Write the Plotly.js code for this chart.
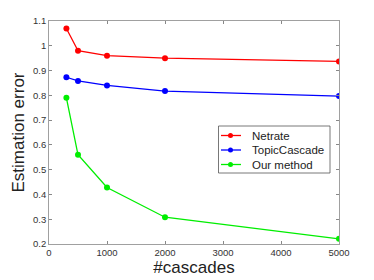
<!DOCTYPE html>
<html><head><meta charset="utf-8">
<script src="https://cdn.plot.ly/plotly-3.0.1.min.js"></script>
<style>html,body{margin:0;padding:0;background:#fff}#c{width:374px;height:280px}</style>
</head><body><div id="c"></div>
<script>
const cascades = [300, 500, 1000, 2000, 5000];
const netrate = [1.07, 0.98, 0.96, 0.95, 0.937];
const topicCascade = [0.873, 0.858, 0.84, 0.817, 0.797];
const ourMethod = [0.79, 0.56, 0.428, 0.308, 0.221];
const seriesNames = ["Netrate", "TopicCascade", "Our method"];
const colors = ["#ff0000", "#0000ff", "#00ee00"];
const vals = [netrate, topicCascade, ourMethod];
const traces = vals.map((v, i) => ({
  x: cascades, y: v, name: seriesNames[i], type: 'scatter', mode: 'lines+markers',
  line: {color: colors[i], width: 1.3}, marker: {color: colors[i], size: 6}, showlegend: false
}));
const W = 374, H = 280, L = 49, R = 35, T = 21, B = 36;
const pw = W - L - R, ph = H - T - B;
const px = x => (x - L) / pw, py = y => (H - B - y) / ph;
// custom legend (MATLAB style) in paper coords
const shapes = [{type: 'rect', xref: 'paper', yref: 'paper', x0: px(218.5), x1: px(330), y0: py(173), y1: py(126),
  line: {color: '#555', width: 0.8}, fillcolor: '#fff', layer: 'above'}];
const annotations = [];
const rowY = [135.5, 150, 164.5];
seriesNames.forEach((n, i) => {
  shapes.push({type: 'line', xref: 'paper', yref: 'paper', x0: px(221), x1: px(241), y0: py(rowY[i]), y1: py(rowY[i]),
    line: {color: colors[i], width: 1.3}, layer: 'above'});
  shapes.push({type: 'circle', xref: 'paper', yref: 'paper', x0: px(228), x1: px(233), y0: py(rowY[i] + 2.5), y1: py(rowY[i] - 2.5),
    line: {color: colors[i], width: 0}, fillcolor: colors[i], layer: 'above'});
  annotations.push({xref: 'paper', yref: 'paper', x: px(249.5), y: py(rowY[i]), xanchor: 'left', yanchor: 'middle',
    text: n, showarrow: false, font: {family: 'Liberation Sans, Arial', size: 11.5, color: '#222'}});
});
const ax = {
  showgrid: false, zeroline: false, showline: true, mirror: 'ticks', linecolor: '#888', linewidth: 0.8,
  ticks: 'inside', ticklen: 3, tickcolor: '#888', tickfont: {family: 'Liberation Sans, Arial', size: 9.5, color: '#333'}
};
Plotly.newPlot('c', traces, {
  width: W, height: H, margin: {l: L, r: R, t: T, b: B},
  paper_bgcolor: '#fff', plot_bgcolor: '#fff', showlegend: false,
  xaxis: Object.assign({}, ax, {range: [0, 5000], tickvals: [0,1000,2000,3000,4000,5000],
    title: {text: '#cascades', font: {family: 'Liberation Sans, Arial', size: 17, color: '#222'}, standoff: 3}}),
  yaxis: Object.assign({}, ax, {range: [0.2, 1.1], tickvals: [0.2,0.3,0.4,0.5,0.6,0.7,0.8,0.9,1,1.1],
    ticktext: ['0.2','0.3','0.4','0.5','0.6','0.7','0.8','0.9','1','1.1'],
    title: {text: 'Estimation error', font: {family: 'Liberation Sans, Arial', size: 17, color: '#222'}, standoff: 4}}),
  shapes: shapes, annotations: annotations
}, {displayModeBar: false, staticPlot: true});
</script></body></html>
